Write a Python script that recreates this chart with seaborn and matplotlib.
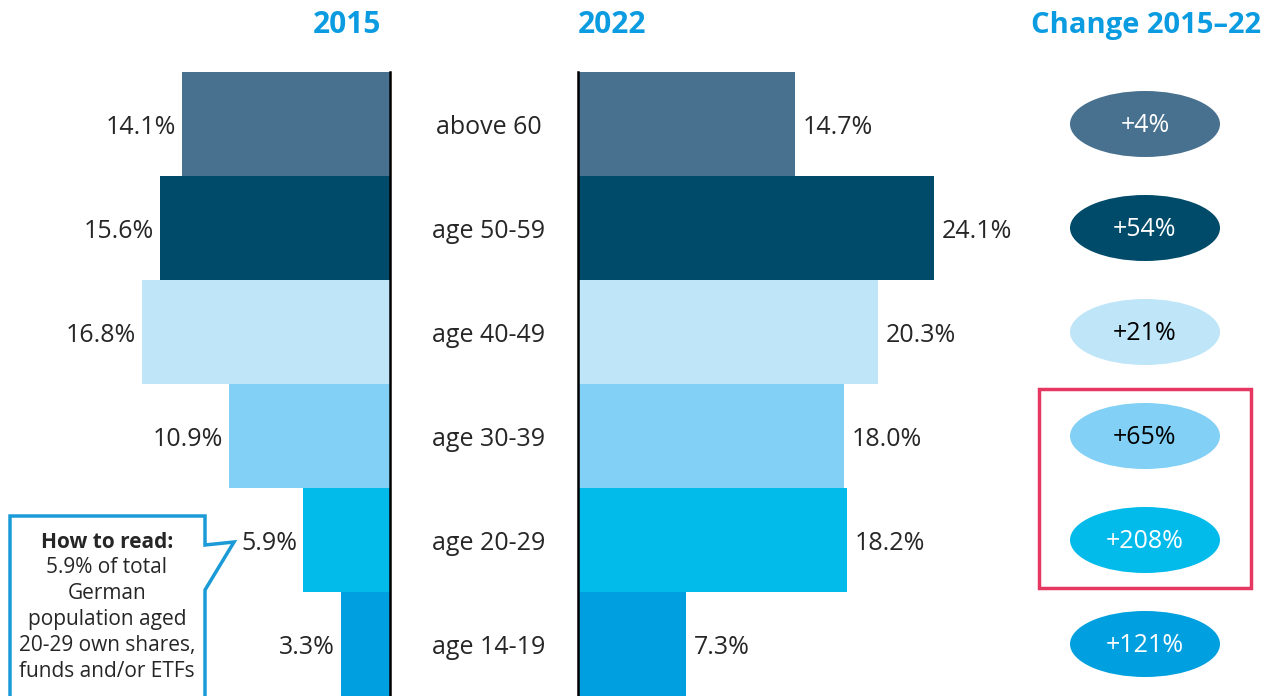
import numpy as np
import pandas as pd
import matplotlib.pyplot as plt
import seaborn as sns
from matplotlib.patches import Ellipse, Rectangle, Polygon

sns.set_style('white')
plt.rcParams['font.family'] = ['Open Sans', 'DejaVu Sans']

# data
age_groups = ['above 60', 'age 50-59', 'age 40-49', 'age 30-39', 'age 20-29', 'age 14-19']
share_2015 = [14.1, 15.6, 16.8, 10.9, 5.9, 3.3]
share_2022 = [14.7, 24.1, 20.3, 18.0, 18.2, 7.3]
change_labels = ['+4%', '+54%', '+21%', '+65%', '+208%', '+121%']
bar_colors = ['#48708f', '#014b6a', '#bfe5f9', '#82d0f5', '#02bbeb', '#009fdf']
change_text_colors = ['white', 'white', 'black', 'black', 'white', 'white']

df = pd.DataFrame({'age': age_groups, 'y2015': share_2015, 'y2022': share_2022})
palette = dict(zip(age_groups, bar_colors))

W, H = 1264, 696
fig = plt.figure(figsize=(W / 100, H / 100), dpi=100)
s = 14.76  # px per percentage point
top = 72

def px_axes(x0, x1, y0=top, y1=H):
    return fig.add_axes([x0 / W, 1 - y1 / H, (x1 - x0) / W, (y1 - y0) / H])

title_color = '#0a9be0'
label_size = 18
dy = 0.03  # nudge text down a little

# 2015 panel (bars extend to the left)
ax1 = px_axes(0, 390)
sns.barplot(data=df, x='y2015', y='age', hue='age', palette=palette, orient='h',
            width=1.0, legend=False, ax=ax1, linewidth=0, saturation=1)
ax1.set_xlim(390 / s, 0)
ax1.set_ylim(5.5, -0.5)
for i, v in enumerate(share_2015):
    ax1.text(v + 6 / s, i + dy, f'{v:.1f}%', ha='right', va='center', fontsize=label_size)

# 2022 panel
ax2 = px_axes(578, W)
sns.barplot(data=df, x='y2022', y='age', hue='age', palette=palette, orient='h',
            width=1.0, legend=False, ax=ax2, linewidth=0, saturation=1)
ax2.set_xlim(0, (W - 578) / s)
ax2.set_ylim(5.5, -0.5)
for i, v in enumerate(share_2022):
    ax2.text(v + 8 / s, i + dy, f'{v:.1f}%', ha='left', va='center', fontsize=label_size)

for ax, side in [(ax1, 'right'), (ax2, 'left')]:
    ax.set_xlabel('')
    ax.set_ylabel('')
    ax.set_xticks([])
    ax.set_yticks([])
    for sp in ax.spines.values():
        sp.set_visible(False)
    ax.spines[side].set_visible(True)
    ax.spines[side].set_color('black')
    ax.spines[side].set_linewidth(1.8)
    ax.spines[side].set_zorder(5)
    ax.patch.set_alpha(0)

# change ellipses
ax3 = px_axes(1030, W)
ax3.set_xlim(0, W - 1030)
ax3.set_ylim(5.5, -0.5)
ax3.axis('off')
for i, (lab, col, tc) in enumerate(zip(change_labels, bar_colors, change_text_colors)):
    ax3.add_patch(Ellipse((115, i), 150, 66 / 104, facecolor=col, edgecolor='none'))
    ax3.text(115, i + 0.01, lab, ha='center', va='center', color=tc, fontsize=label_size)
ax3.add_patch(Rectangle((9, 2.55), 212, 1.91, facecolor='none', edgecolor='#e63763',
                        linewidth=2.5, clip_on=False))

# overlay for titles, category labels and callout
ov = fig.add_axes([0, 0, 1, 1])
ov.set_xlim(0, W)
ov.set_ylim(H, 0)
ov.axis('off')
ov.patch.set_alpha(0)

ov.text(347, 25, '2015', ha='center', va='center', fontsize=21.5, fontweight='bold', color=title_color)
ov.text(612, 25, '2022', ha='center', va='center', fontsize=21.5, fontweight='bold', color=title_color)
ov.text(1146, 25, 'Change 2015–22', ha='center', va='center', fontsize=21, fontweight='bold',
        color=title_color)

for i, lab in enumerate(age_groups):
    ov.text(489, top + 55 + 104 * i, lab, ha='center', va='center', fontsize=label_size)

callout = Polygon([(10, 516), (205, 516), (205, 545), (234, 542), (205, 590), (205, 705), (10, 705)],
                  closed=True, facecolor='white', edgecolor='#1a9ad6', linewidth=2.5, clip_on=False)
ov.add_patch(callout)
ov.text(107, 543, 'How to read:', ha='center', va='center', fontsize=15, fontweight='bold')
ov.text(107, 557, '5.9% of total\nGerman\npopulation aged\n20-29 own shares,\nfunds and/or ETFs',
        ha='center', va='top', fontsize=15, linespacing=1.32)

fig.savefig('out.png', dpi=100)
